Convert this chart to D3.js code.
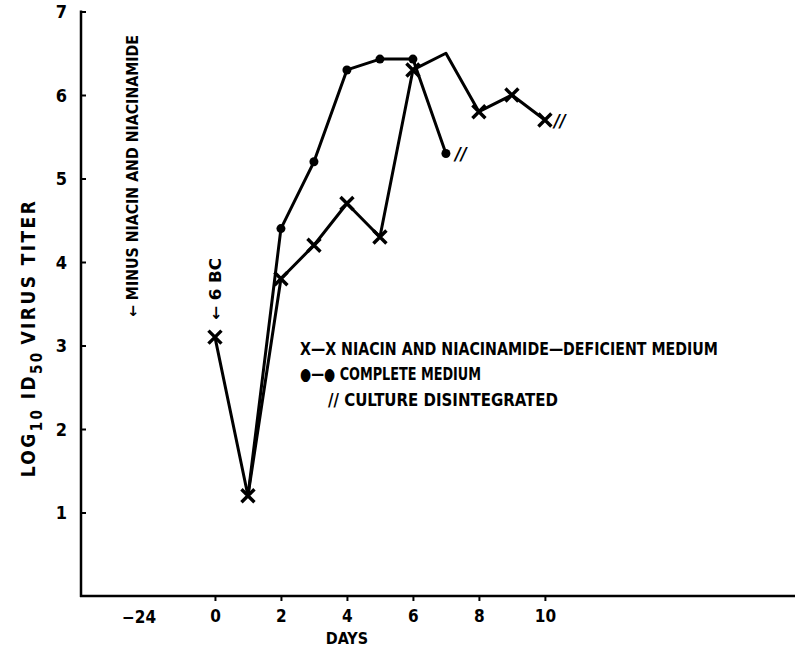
<!DOCTYPE html>
<html><head><meta charset="utf-8">
<script src="https://cdn.jsdelivr.net/npm/d3@7"></script>
<style>
body{margin:0;background:#fff;}
text{font-family:"Liberation Sans Narrow","DejaVu Sans Condensed","Liberation Sans",sans-serif;font-weight:bold;fill:#000;}
</style></head>
<body><svg id="c" width="795" height="652"></svg>
<script>
// ---- data ----
const deficientDays   = [0, 1, 2, 3, 4, 5, 6, 7, 8, 9, 10];
const deficientValues = [3.1, 1.2, 3.8, 4.2, 4.7, 4.3, 6.3, 6.5, 5.8, 6.0, 5.7];
const deficientMarked = [true, true, true, true, true, true, true, false, true, true, true];
const completeDays    = [1, 2, 3, 4, 5, 6, 7];
const completeValues  = [1.2, 4.4, 5.2, 6.3, 6.43, 6.43, 5.3];
const completeMarked  = [false, true, true, true, true, true, true];
const xTickDays  = [0, 2, 4, 6, 8, 10];
const yTickVals  = [1, 2, 3, 4, 5, 6, 7];
const preLabel   = "\u221224";
const preLabelPos = -2.3;
const annotMinusPos = -2.5;

const svg = d3.select("#c");
const x = d3.scaleLinear().domain([-4.06, 17.58]).range([81, 795]);
const y = d3.scaleLinear().domain([0, 7]).range([596, 11.5]);

// axes
const ya = svg.append("g").attr("transform","translate(81,0)")
  .call(d3.axisRight(y).tickValues(yTickVals).tickSize(5).tickFormat(d=>d));
ya.select(".domain").remove();
ya.selectAll(".tick line").attr("stroke","#000").attr("stroke-width",2);
ya.selectAll(".tick text").attr("x",-14).attr("text-anchor","end").attr("dy","0.36em")
  .style("font-size","18px");
svg.append("line").attr("x1",81).attr("x2",81).attr("y1",y(7)-1).attr("y2",597)
  .attr("stroke","#000").attr("stroke-width",2.5);

const xa = svg.append("g").attr("transform","translate(0,596)")
  .call(d3.axisBottom(x).tickValues(xTickDays).tickSize(5).tickFormat(d=>d));
xa.select(".domain").remove();
xa.selectAll(".tick line").attr("stroke","#000").attr("stroke-width",2);
xa.selectAll(".tick text").attr("y",14).attr("dy","0.71em").style("font-size","17px");
svg.append("line").attr("x1",80).attr("x2",795).attr("y1",596).attr("y2",596)
  .attr("stroke","#000").attr("stroke-width",2.5);
svg.append("text").attr("x",x(preLabelPos)).attr("y",623).attr("text-anchor","middle")
  .style("font-size","17px").text(preLabel);
svg.append("text").attr("x",x(4)).attr("y",644).attr("text-anchor","middle")
  .style("font-size","16px").text("DAYS");

// y label
const yl = svg.append("text").attr("transform","translate(35,338) rotate(-90)")
  .attr("text-anchor","middle").style("font-size","19px").style("letter-spacing","2.4px")
  .style("font-weight","600");
yl.append("tspan").text("LOG");
yl.append("tspan").attr("dy",7).style("font-size","15px").text("10");
yl.append("tspan").attr("dy",-7).text(" ID");
yl.append("tspan").attr("dy",7).style("font-size","15px").text("50");
yl.append("tspan").attr("dy",-7).text("\u2009VIRUS TITER");

// lines
const line = d3.line().x(d=>x(d[0])).y(d=>y(d[1]));
const defPts = deficientDays.map((d,i)=>[d, deficientValues[i]]);
const comPts = completeDays.map((d,i)=>[d, completeValues[i]]);
svg.append("path").attr("d",line(comPts)).attr("fill","none").attr("stroke","#000")
  .attr("stroke-width",3).attr("stroke-linejoin","round");
svg.append("path").attr("d",line(defPts)).attr("fill","none").attr("stroke","#000")
  .attr("stroke-width",3).attr("stroke-linejoin","round");

// markers
defPts.forEach((p,i)=>{
  if(!deficientMarked[i]) return;
  const cx=x(p[0]), cy=y(p[1]), s=6.5;
  svg.append("path").attr("d",`M${cx-s},${cy-s}L${cx+s},${cy+s}M${cx+s},${cy-s}L${cx-s},${cy+s}`)
    .attr("stroke","#000").attr("stroke-width",3.4);
});
comPts.forEach((p,i)=>{
  if(!completeMarked[i]) return;
  svg.append("circle").attr("cx",x(p[0])).attr("cy",y(p[1])).attr("r",4.5).attr("fill","#000");
});

// disintegration marks
function slashes(p){
  svg.append("text").attr("x",x(p[0])+9).attr("y",y(p[1])+7)
    .style("font-size","18px").style("font-style","italic").text("//");
}
slashes(defPts[defPts.length-1]);
slashes(comPts[comPts.length-1]);

// annotations
svg.append("text").attr("transform",`translate(${x(0)+6},289) rotate(-90)`)
  .attr("text-anchor","middle").style("font-size","15px")
  .attr("textLength",62).attr("lengthAdjust","spacingAndGlyphs").text("\u2190 6 BC");
svg.append("text").attr("transform",`translate(${x(annotMinusPos)+6},176) rotate(-90)`)
  .attr("text-anchor","middle").style("font-size","15px")
  .attr("textLength",282).attr("lengthAdjust","spacingAndGlyphs")
  .text("\u2190 MINUS NIACIN AND NIACINAMIDE");

// legend
const lg = [
  {t:"X\u2014X NIACIN  AND NIACINAMIDE\u2014DEFICIENT MEDIUM", x:300, y:355, w:418},
  {t:"\u25CF\u2014\u25CF COMPLETE  MEDIUM", x:300, y:380, w:181},
  {t:"// CULTURE DISINTEGRATED", x:328, y:406, w:230}
];
lg.forEach(l=>{
  svg.append("text").attr("x",l.x).attr("y",l.y).style("font-size","17px")
    .attr("textLength",l.w).attr("lengthAdjust","spacingAndGlyphs").text(l.t);
});
</script></body></html>
